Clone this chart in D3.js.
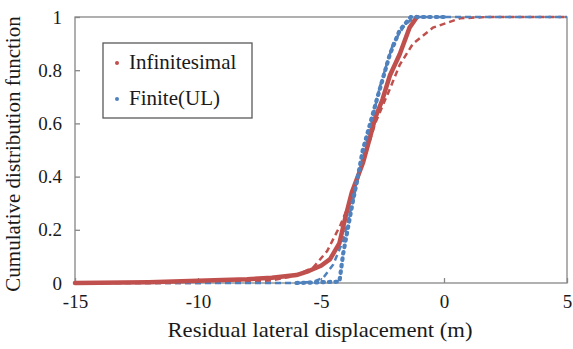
<!DOCTYPE html>
<html>
<head>
<meta charset="utf-8">
<script src="https://cdn.jsdelivr.net/npm/d3@7"></script>
<style>
  body { margin: 0; background: #fff; }
  text { font-family: "Liberation Serif", "Times New Roman", serif; fill: #1a1a1a; }
</style>
</head>
<body>
<div id="chart"></div>
<script>
// empirical CDF, infinitesimal strain model  [displacement, probability]
var infinitesimalPts = [[-15,0],[-12,0.003],[-10,0.008],[-8,0.014],[-7,0.02],[-6,0.03],[-5.5,0.045],
  [-5,0.065],[-4.63,0.09],[-4.25,0.15],[-4,0.25],[-3.75,0.34],[-3.3,0.45],[-3,0.55],[-2.8,0.62],
  [-2.5,0.69],[-2.2,0.78],[-1.8,0.86],[-1.4,0.96],[-1.1,1]];
// fitted CDF, infinitesimal
var infinitesimalFit = [[-15,0],[-10,0],[-8,0.004],[-7,0.01],[-6,0.028],[-5.3,0.06],[-4.75,0.12],
  [-4.2,0.22],[-3.8,0.31],[-3.3,0.45],[-2.8,0.6],[-2.2,0.73],[-1.8,0.82],[-1.26,0.9],[-0.45,0.96],
  [0.65,0.995],[1.75,1],[5,1]];
// empirical CDF, finite strain (updated Lagrangian)
var finitePts = [[-6,0],[-4.25,0.005],[-4.1,0.11],[-3.9,0.21],[-3.7,0.31],[-3.5,0.4],[-3.3,0.5],
  [-3,0.6],[-2.7,0.7],[-2.2,0.86],[-1.8,0.95],[-1.35,1],[0,1]];
// fitted CDF, finite
var finiteFit = [[-15,0],[-6,0],[-5.3,0.005],[-4.9,0.02],[-4.5,0.07],[-4.1,0.16],[-3.7,0.31],
  [-3.3,0.47],[-3,0.58],[-2.6,0.74],[-2.07,0.9],[-1.6,0.97],[-1.2,1],[5,1]];

var xTicks = [-15, -10, -5, 0, 5];
var yTicks = [0, 0.2, 0.4, 0.6, 0.8, 1];
var legendNames = ["Infinitesimal", "Finite(UL)"];

var red = "#C0504D", blue = "#4F81BD";

var W = 573, H = 349;
var margin = {top: 17, right: 6, bottom: 66, left: 75};
var w = W - margin.left - margin.right, h = H - margin.top - margin.bottom;

var svg = d3.select("#chart").append("svg")
  .attr("width", W).attr("height", H)
  .append("g")
  .attr("transform", `translate(${margin.left},${margin.top})`);

var x = d3.scaleLinear().domain([-15, 5]).range([0, w]);
var y = d3.scaleLinear().domain([0, 1]).range([h, 0]);

var line = d3.line().x(function(d) { return x(d[0]); }).y(function(d) { return y(d[1]); });

// frame
svg.append("rect").attr("width", w).attr("height", h)
  .attr("fill", "none").attr("stroke", "#868686").attr("stroke-width", 1.3);

// axes (ticks drawn inward)
var xAxis = svg.append("g").attr("transform", `translate(0,${h})`)
  .call(d3.axisBottom(x).tickValues(xTicks).tickSize(-5).tickPadding(12).tickFormat(d3.format("d")));
var yAxis = svg.append("g")
  .call(d3.axisLeft(y).tickValues(yTicks).tickSize(-5).tickPadding(13).tickFormat(function(d) { return d; }));
[xAxis, yAxis].forEach(function(a) {
  a.select(".domain").remove();
  a.selectAll("line").attr("stroke", "#868686").attr("stroke-width", 1.3);
  a.selectAll("text").style("font-size", "19px").attr("fill", "#1a1a1a")
    .style("font-family", "'Liberation Serif', serif");
});
xAxis.selectAll("text").text(function(d) { return d < 0 ? "-" + Math.abs(d) : d; });

// fitted curves
svg.append("path").datum(infinitesimalFit).attr("d", line)
  .attr("fill", "none").attr("stroke", red).attr("stroke-width", 2.5)
  .attr("stroke-dasharray", "6 4");
svg.append("path").datum(finiteFit).attr("d", line)
  .attr("fill", "none").attr("stroke", blue).attr("stroke-width", 2.5)
  .attr("stroke-dasharray", "6 4");

// empirical markers
svg.append("path").datum(infinitesimalPts).attr("d", line)
  .attr("fill", "none").attr("stroke", red).attr("stroke-width", 4.5)
  .attr("stroke-linecap", "round").attr("stroke-linejoin", "round");
svg.append("path").datum(finitePts).attr("d", line)
  .attr("fill", "none").attr("stroke", blue).attr("stroke-width", 4.2)
  .attr("stroke-linecap", "round").attr("stroke-dasharray", "1.5 5");

// axis titles
svg.append("text").attr("x", 245).attr("y", h + 54)
  .attr("text-anchor", "middle").style("font-size", "21px")
  .attr("textLength", 305).attr("lengthAdjust", "spacingAndGlyphs")
  .text("Residual lateral displacement (m)");
svg.append("text").attr("transform", `translate(${-55},${h / 2 + 4}) rotate(-90)`)
  .attr("text-anchor", "middle").style("font-size", "21px")
  .text("Cumulative distribution function");

// legend
var lg = svg.append("g").attr("transform", "translate(28,26)");
lg.append("rect").attr("width", 149).attr("height", 75)
  .attr("fill", "#fff").attr("stroke", "#595959").attr("stroke-width", 1.3);
legendNames.forEach(function(name, i) {
  lg.append("circle").attr("cx", 14).attr("cy", 20 + i * 36).attr("r", 2)
    .attr("fill", i === 0 ? red : blue);
  lg.append("text").attr("x", 26).attr("y", 26 + i * 36)
    .style("font-size", "21px").text(name);
});
</script>
</body>
</html>
